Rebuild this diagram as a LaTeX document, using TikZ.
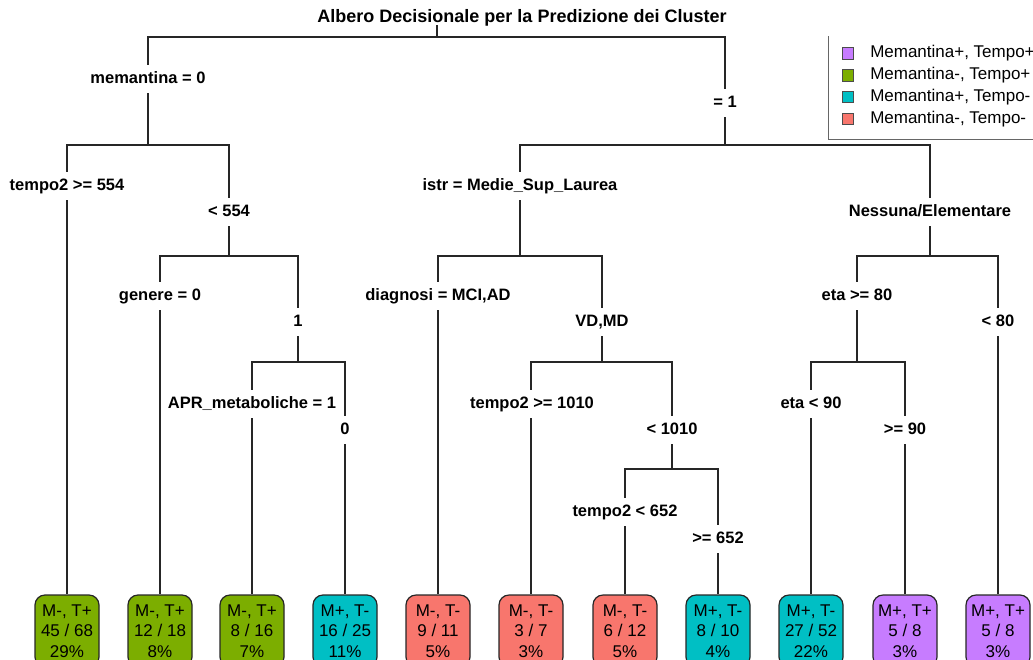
\documentclass[tikz,border=0pt]{standalone}
\usepackage{fontspec}
\setmainfont{Liberation Sans}
\usetikzlibrary{positioning}
\definecolor{clpurple}{HTML}{C77CFF}
\definecolor{clgreen}{HTML}{7CAE00}
\definecolor{clcyan}{HTML}{00BFC4}
\definecolor{clred}{HTML}{F8766D}

\begin{document}
\begin{tikzpicture}[x=1pt,y=-1pt,
  branch/.style={draw=black!85,line width=1.2pt},
  split/.style={fill=white,inner xsep=2pt,inner ysep=6pt,text height=12pt,
    text depth=3.5pt,font=\fontsize{16.5}{18}\selectfont\bfseries},
  leaf/.style={draw=black!85,line width=1.2pt,rounded corners=10pt,
    minimum width=64pt,minimum height=72pt,inner sep=0pt,align=center,
    font=\fontsize{17}{20.5}\selectfont},
  key/.style={draw=black!70,line width=0.6pt,minimum size=11.5pt,inner sep=0pt}
]
\useasboundingbox (0,0) rectangle (1033,659);
\node[font=\fontsize{18}{20}\selectfont\bfseries] (title) at (522,18)
  {Albero Decisionale per la Predizione dei Cluster};
\coordinate (top) at (437,25);
\coordinate (root) at (437,37);
\coordinate (n1) at (148,145);
\coordinate (n2) at (725,145);
\coordinate (n3) at (229,256);
\coordinate (n4) at (298,362);
\coordinate (n5) at (520,256);
\coordinate (n6) at (930,256);
\coordinate (n7) at (602,362);
\coordinate (n8) at (672,469);
\coordinate (n9) at (857,362);
\foreach \x/\cl/\ms/\ts/\a/\b/\p [count=\i] in {
  67/clgreen/-/+/45/68/29, 160/clgreen/-/+/12/18/8, 252/clgreen/-/+/8/16/7,
  345/clcyan/+/-/16/25/11, 438/clred/-/-/9/11/5, 531/clred/-/-/3/7/3,
  625/clred/-/-/6/12/5, 718/clcyan/+/-/8/10/4, 811/clcyan/+/-/27/52/22,
  905/clpurple/+/+/5/8/3, 998/clpurple/+/+/5/8/3}
  \node[leaf,fill=\cl] (l\i) at (\x,631) {M\ms, T\ts\\\a~/~\b\\\p\%};
\draw[branch] (top) -- (root);
\foreach \u/\v in {root/n1,root/n2,n1/l1.north,n1/n3,n3/l2.north,n3/n4,
  n4/l3.north,n4/l4.north,n2/n5,n2/n6,n5/l5.north,n5/n7,n7/l6.north,n7/n8,
  n8/l7.north,n8/l8.north,n6/n9,n6/l11.north,n9/l9.north,n9/l10.north}
  \draw[branch] (\u) -| (\v);
\node[split] (s1) at (148,79) {memantina = 0};
\node[split] (s2) at (725,103) {= 1};
\node[split] (s3) at (67,186) {tempo2 >= 554};
\node[split] (s4) at (229,212) {< 554};
\node[split] (s5) at (160,296) {genere = 0};
\node[split] (s6) at (298,322) {1};
\node[split] (s7) at (252,404) {APR\_metaboliche = 1};
\node[split] (s8) at (345,430) {0};
\node[split] (s9) at (520,186) {istr = Medie\_Sup\_Laurea};
\node[split] (s10) at (930,212) {Nessuna/Elementare};
\node[split] (s11) at (438,296) {diagnosi = MCI,AD};
\node[split] (s12) at (602,322) {VD,MD};
\node[split] (s13) at (532,404) {tempo2 >= 1010};
\node[split] (s14) at (672,430) {< 1010};
\node[split] (s15) at (625,512) {tempo2 < 652};
\node[split] (s16) at (718,539) {>= 652};
\node[split] (s17) at (857,296) {eta >= 80};
\node[split] (s18) at (998,322) {< 80};
\node[split] (s19) at (811,404) {eta < 90};
\node[split] (s20) at (905,430) {>= 90};
\draw[draw=black!60,line width=0.8pt] (828,36) |- (1033,139);
\foreach \cl/\txt [count=\i] in {clpurple/{Memantina+, Tempo+},
  clgreen/{Memantina-, Tempo+},clcyan/{Memantina+, Tempo-},
  clred/{Memantina-, Tempo-}} {
  \node[key,fill=\cl] (k\i) at (848,31.5+21.8*\i) {};
  \node[right=16pt of k\i,inner sep=0pt,font=\fontsize{17}{18}\selectfont]
    (t\i) {\txt};
}
\end{tikzpicture}
\end{document}
